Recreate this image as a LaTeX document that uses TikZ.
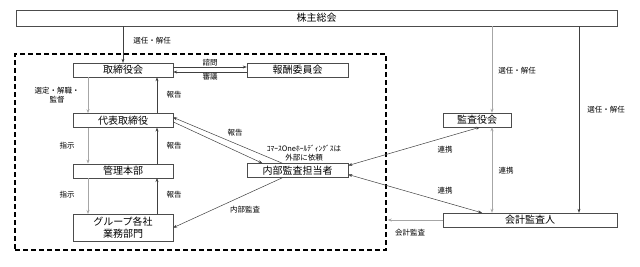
\documentclass[tikz,border=0pt]{standalone}
\usepackage{fontspec}
\setmainfont{Noto Sans CJK JP}
\usetikzlibrary{positioning, arrows.meta}

\begin{document}
\begin{tikzpicture}[x=1pt,y=-1pt,>={Stealth[length=4pt,width=3pt]},node distance=36pt,
  b/.style={draw=black!70,inner sep=0pt,minimum width=100pt,minimum height=14pt,font=\fontsize{10}{12.5}\selectfont},
  l/.style={inner sep=1pt,align=center,font=\fontsize{7.5}{9}\selectfont},
  dk/.style={draw=black!75,line width=0.5pt},
  lt/.style={draw=black!35,line width=0.7pt}]
  \useasboundingbox (0,0) rectangle (640,266);
  \node[draw,dash pattern=on 5pt off 3pt,line width=1.4pt,minimum width=371pt,minimum height=196pt,inner sep=0pt](grp) at (200.5,152){};
  \node[b,minimum width=601pt,minimum height=16pt](sh) at (316.5,18){株主総会};
  \node[b](tb) at (123,70){取締役会};\node[b,minimum width=101pt](hs) at (297.5,70){報酬委員会};
  \node[b,below=of tb](dh){代表取締役};\node[b,below=of dh](kh){管理本部};
  \node[b,below=of kh,minimum height=27pt,align=center](gp){グループ各社\\業務部門};
  \node[b,minimum width=101pt](nb) at (297.5,170.5){内部監査担当者};
  \node[b,minimum width=68pt](ky) at (477,120){監査役会};\node[b,minimum width=174pt](kk) at (530,220){会計監査人};
  \draw[dk,->](tb.north |- sh.south)--(tb.north);
  \draw[lt,->]([xshift=15pt]ky.north |- sh.south)--([xshift=15pt]ky.north);
  \draw[dk,->]([xshift=49pt]kk.north |- sh.south)--([xshift=49pt]kk.north);
  \draw[dk,->]([yshift=3pt]tb.east)--node[l,above](sm){諮問}([yshift=3pt]hs.west);
  \draw[dk,->]([yshift=-2pt]hs.west)--node[l,below](sg){審議}([yshift=-2pt]tb.east);
  \draw[lt,->]([xshift=-35pt]tb.south)--([xshift=-35pt]dh.north);\draw[dk,->]([xshift=34pt]dh.north)--([xshift=34pt]tb.south);
  \draw[lt,->]([xshift=-35pt]dh.south)--([xshift=-35pt]kh.north);\draw[dk,->]([xshift=34pt]kh.north)--([xshift=34pt]dh.south);
  \draw[lt,->]([xshift=-35pt]kh.south)--([xshift=-35pt]gp.north);\draw[dk,->]([xshift=34pt]gp.north)--([xshift=34pt]kh.south);
  \draw[dk,->]([xshift=-15pt]nb.north)--([yshift=3pt]dh.east);\draw[dk,->]([yshift=-1.5pt]dh.east)--([xshift=-35pt]nb.north);
  \draw[dk,->]([xshift=-15pt]nb.south)--(gp.east);
  \draw[dk,<->]([yshift=5pt]nb.east)--([xshift=3pt]ky.south);\draw[dk,<->]([yshift=-4pt]nb.east)--([xshift=-48pt]kk.north);
  \draw[lt,<->]([xshift=15pt]ky.south)--([xshift=15pt]ky.south |- kk.north);
  \draw[lt,->](kk.west)--([xshift=1pt]kk.west -| grp.east);
  % labels
  \node[l](s1) at (152,41){選任・解任};\node[l](s2) at (517,71){選任・解任};\node[l](s3) at (606,110){選任・解任};
  \node[l](sk) at (57,95){選定・解職・\\監督};
  \node[l](h1) at (174,95){報告};\node[l](h2) at (174,146){報告};\node[l](h3) at (174,195){報告};
  \node[l](j1) at (67,146){指示};\node[l](j2) at (67,195){指示};
  \node[l](h4) at (235,133){報告};
  \node[l](gi) at (304,153.5){ｺﾏｰｽOneﾎｰﾙﾃﾞｨﾝｸﾞｽは\\外部に依頼};
  \node[l](nk) at (245,210){内部監査};
  \node[l](r1) at (445,150){連携};\node[l](r2) at (445,191){連携};\node[l](r3) at (506,171){連携};
  \node[l](ka) at (410,233){会計監査};
\end{tikzpicture}
\end{document}
